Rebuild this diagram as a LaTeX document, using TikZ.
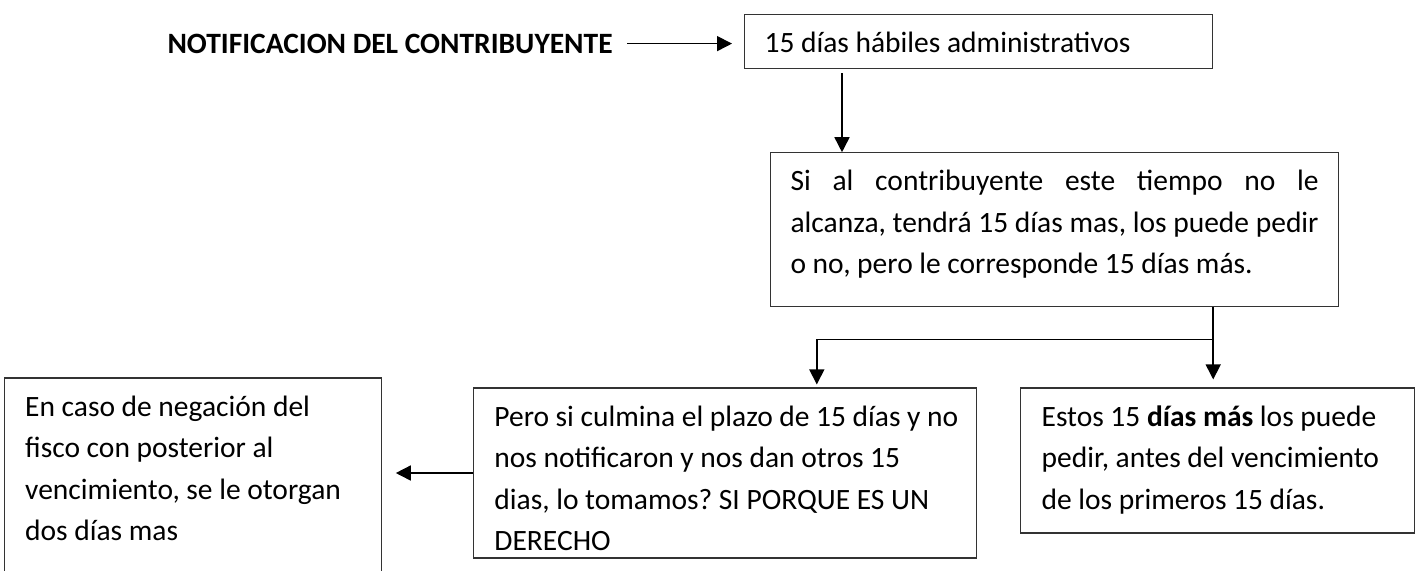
\documentclass[tikz,border=0pt]{standalone}
\usepackage{fontspec}
\setmainfont{Carlito}
\usetikzlibrary{arrows.meta,positioning}
\newcommand{\espacio}{\frenchspacing\spaceskip=3.3pt plus 1.7pt minus 1.1pt\relax}

\begin{document}
\begin{tikzpicture}[
      x=1pt, y=1pt,
      box/.style={draw=black!80, line width=0.6pt, anchor=north west,
                  inner xsep=10.5pt, inner ysep=0pt, text height=19pt,
                  font=\fontsize{14.75pt}{20.75pt}\selectfont},
      izq/.style={box, execute at begin node={\espacio\raggedright}},
      just/.style={box, align=justify, execute at begin node={\espacio}},
      titulo/.style={inner xsep=7pt, font=\fontsize{14.75pt}{18pt}\selectfont\bfseries\espacio},
      arr/.style={-{Triangle[length=7.5pt, width=7.5pt]}, line width=0.8pt}]
    \clip (0,0) rectangle (709.5,-285);
    \node[izq, text width=214pt, inner xsep=10pt, text depth=8pt] (plazo) at (372,-7)
      {15 días hábiles administrativos};
    \node[titulo, left=58.5pt of plazo, yshift=-1pt] (titulo) {NOTIFICACION DEL CONTRIBUYENTE};
    \node[just, text width=264pt, inner xsep=10pt, text depth=58pt,
          below=41.5pt of plazo.south west, anchor=north west, xshift=13pt] (extra)
      {Si al contribuyente este tiempo no le\linebreak
       alcanza, tendrá 15 días mas, los puede pedir\linebreak
       o no, pero le corresponde 15 días más.};
    \node[izq, text width=176pt, text depth=53.5pt,
          below=40pt of extra.south west, anchor=north west, xshift=125pt] (estos)
      {Estos 15 \textbf{días más} los puede\\
       pedir, antes del vencimiento\\
       de los primeros 15 días.};
    \node[izq, text width=230.5pt, text depth=66pt,
          left=21.5pt of estos.north west, anchor=north east] (pero)
      {\mbox{Pero si culmina el plazo de 15 días y no}\\
       nos notificaron y nos dan otros 15\\
       dias, lo tomamos? SI PORQUE ES UN\\
       DERECHO};
    \node[izq, text width=167.5pt, text depth=90pt,
          left=45.5pt of pero.north west, anchor=north east, yshift=5pt] (negacion)
      {En caso de negación del\\
       fisco con posterior al\\
       vencimiento, se le otorgan\\
       dos días mas};
    % conectores
    \coordinate (split) at ([xshift=-63pt]extra.south east);
    \coordinate (knee) at ([yshift=-16pt]split);
    \draw[arr, shorten >=6pt] (titulo.east) -- (titulo.east -| plazo.west);
    \draw[arr, shorten <=2pt] ([xshift=49pt]plazo.south west)
      -- ([xshift=49pt]plazo.south west |- extra.north);
    \draw[arr, shorten >=4pt] (split) -- (split |- estos.north);
    \draw[arr, shorten >=1.5pt] (knee) -| ([xshift=172pt]pero.north west);
    \draw[arr, shorten >=7pt] (pero.west) -- (pero.west -| negacion.east);
  \end{tikzpicture}
\end{document}
